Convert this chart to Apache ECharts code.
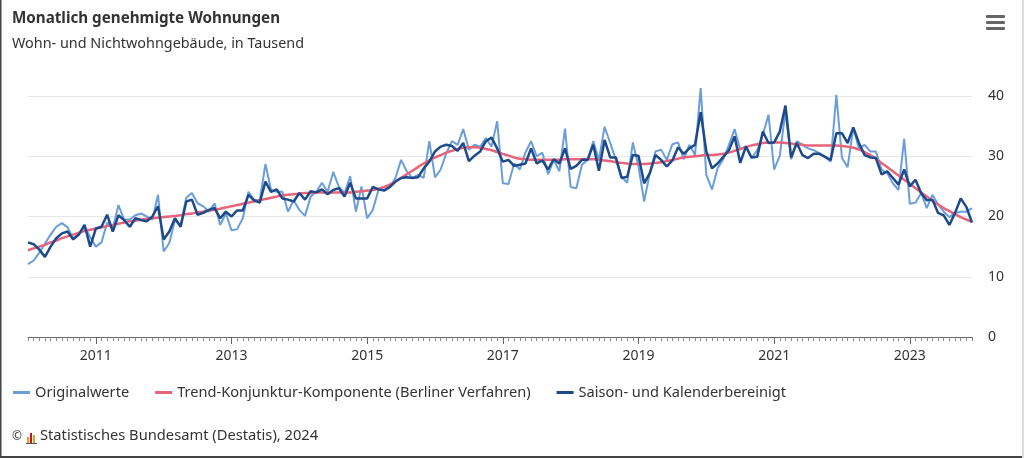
<!DOCTYPE html>
<html><head><meta charset="utf-8">
<script src="https://cdn.jsdelivr.net/npm/echarts@6/dist/echarts.min.js"></script>
<style>html,body{margin:0;padding:0;background:#fff}#c{width:1024px;height:458px}</style>
</head><body><div id="c"></div>
<script>
var years = [2010,2011,2012,2013,2014,2015,2016,2017,2018,2019,2020,2021,2022,2023];
var monthCodes = ['01','02','03','04','05','06','07','08','09','10','11','12'];
var categories = [];
years.forEach(function(y){ monthCodes.forEach(function(m){ categories.push(y + '-' + m); }); });

var yTicks = [0, 10, 20, 30, 40];

var originalwerte = [
 12.1,12.7,14.0,15.5,17.0,18.3,18.9,18.2,16.4,17.1,18.3,16.6,
 15.0,15.7,19.0,18.0,21.9,19.5,19.5,20.2,20.5,20.0,19.5,23.6,
 14.2,15.6,19.4,18.6,23.1,23.9,22.2,21.7,20.8,22.2,18.6,20.5,
 17.7,17.9,19.7,24.1,22.7,22.7,28.7,24.4,24.1,24.1,20.8,22.7,
 21.1,20.1,23.3,24.1,25.6,24.1,27.4,24.9,23.9,26.7,20.8,25.0,
 19.7,21.1,24.4,24.4,24.9,26.4,29.4,27.5,26.4,26.9,26.4,32.5,
 26.5,27.8,30.5,32.5,31.9,34.5,31.1,31.9,31.6,33.0,31.6,35.8,
 25.5,25.4,28.8,27.8,30.6,32.5,30.0,30.6,27.0,29.4,27.5,34.6,
 24.9,24.7,28.6,29.4,32.5,29.4,34.9,32.2,29.4,26.6,25.6,32.3,
 28.3,22.5,27.2,30.8,31.1,29.4,32.0,32.3,29.5,31.9,30.2,41.3,
 26.9,24.5,28.0,29.5,31.9,34.5,31.1,31.7,29.7,31.0,33.6,36.9,
 27.8,30.1,37.5,29.5,32.5,31.9,31.3,31.0,30.5,29.9,29.1,40.2,
 29.7,28.2,34.7,31.3,31.9,30.8,30.8,27.8,27.2,25.5,24.4,32.9,
 22.1,22.3,23.9,21.4,23.6,22.0,20.8,19.9,20.6,20.8,20.8,21.4
];

var trendKomponente = [
 14.4,14.7,15.0,15.3,15.7,16.0,16.4,16.7,17.0,17.3,17.6,17.8,
 18.0,18.2,18.4,18.6,18.8,19.0,19.2,19.3,19.5,19.6,19.7,19.8,
 19.9,20.0,20.1,20.2,20.4,20.5,20.7,20.8,21.0,21.1,21.3,21.5,
 21.7,21.9,22.1,22.3,22.5,22.7,22.9,23.1,23.3,23.5,23.6,23.7,
 23.8,23.9,23.9,24.0,24.0,24.0,24.0,24.0,24.0,24.0,24.1,24.2,
 24.3,24.4,24.6,24.9,25.3,25.8,26.4,27.0,27.6,28.2,28.8,29.3,
 29.8,30.2,30.6,30.9,31.2,31.4,31.5,31.5,31.4,31.2,31.0,30.7,
 30.4,30.1,29.8,29.6,29.5,29.4,29.4,29.4,29.4,29.4,29.4,29.5,
 29.5,29.5,29.5,29.5,29.5,29.4,29.3,29.2,29.0,28.9,28.8,28.7,
 28.7,28.7,28.8,28.9,29.0,29.2,29.4,29.6,29.8,29.9,30.0,30.1,
 30.2,30.2,30.3,30.4,30.6,30.9,31.2,31.5,31.8,32.0,32.2,32.3,
 32.3,32.3,32.2,32.1,32.0,31.9,31.8,31.8,31.8,31.8,31.8,31.8,
 31.7,31.6,31.4,31.1,30.7,30.2,29.6,28.9,28.2,27.5,26.8,26.1,
 25.4,24.7,24.0,23.3,22.6,22.0,21.4,20.9,20.4,19.9,19.5,19.1
];

var saisonbereinigt = [
 15.7,15.4,14.5,13.3,15.0,16.4,17.2,17.5,16.2,17.0,18.6,15.0,
 18.0,18.3,20.3,17.5,20.2,19.4,18.3,19.7,19.4,19.2,20.0,21.7,
 16.2,17.5,19.7,18.3,22.5,22.8,20.3,20.6,21.1,21.4,19.7,20.8,
 20.0,21.0,21.0,23.6,22.7,22.3,25.8,24.1,24.5,23.0,22.8,22.5,
 23.9,22.8,24.2,24.0,24.5,23.7,24.4,24.7,23.3,25.6,23.0,23.0,
 23.0,24.9,24.5,24.3,24.9,25.8,26.4,26.5,26.4,26.5,28.0,29.1,
 30.8,31.6,31.9,31.7,30.9,32.2,29.2,30.1,30.8,32.5,33.1,31.3,
 29.1,29.4,28.4,28.6,28.8,31.3,28.8,29.3,27.8,29.5,28.8,31.3,
 27.9,28.4,29.4,29.4,31.9,27.6,32.7,29.8,29.8,26.4,26.6,30.2,
 30.1,25.5,27.2,30.2,29.4,28.3,29.3,31.5,30.4,31.3,31.9,37.3,
 30.8,28.0,28.8,29.9,31.0,33.3,28.9,31.6,29.8,29.9,34.1,32.2,
 32.3,34.1,38.4,29.8,32.2,30.2,29.7,30.4,30.4,29.9,29.4,33.8,
 33.8,32.2,34.8,32.2,30.2,29.8,29.7,27.0,27.5,26.4,25.3,27.8,
 25.0,26.1,23.9,22.7,22.8,20.6,20.2,18.6,20.6,23.0,21.6,19.0
];

var seriesNames = ['Originalwerte', 'Trend-Konjunktur-Komponente (Berliner Verfahren)', 'Saison- und Kalenderbereinigt'];
var colors = ['#6a9edb', '#e8647a', '#1d4a8a'];
var FONT = '"Noto Sans", sans-serif';

function isMajor(v){ var p = v.split('-'); return p[1] === '01' && (+p[0]) % 2 === 1; }

var chart = echarts.init(document.getElementById('c'));
chart.setOption({
  animation: false,
  color: colors,
  textStyle: { fontFamily: FONT },
  title: {
    text: 'Monatlich genehmigte Wohnungen',
    subtext: 'Wohn- und Nichtwohngebäude, in Tausend',
    left: 7, top: 6, itemGap: 11,
    textStyle: { fontFamily: FONT, fontSize: 15.2, fontWeight: 'bold', color: '#333' },
    subtextStyle: { fontFamily: FONT, fontSize: 14.4, color: '#333' }
  },
  legend: {
    left: 8, top: 380, itemWidth: 17, itemHeight: 3, itemGap: 26, icon: 'rect',
    textStyle: { fontFamily: FONT, fontSize: 14.6, color: '#333' },
    data: seriesNames
  },
  grid: { left: 28, right: 52, top: 96, bottom: 121, containLabel: false },
  xAxis: [{
    type: 'category', data: categories, boundaryGap: false,
    axisLine: { lineStyle: { color: '#666', width: 1 } },
    axisTick: { show: true, interval: 0, length: 4, lineStyle: { color: '#888' } },
    axisLabel: { interval: function(i, v){ return isMajor(v); }, formatter: function(v){ return v.split('-')[0]; },
      color: '#333', fontSize: 14, margin: 12, fontFamily: FONT },
    splitLine: { show: false }
  }, {
    type: 'category', data: categories, boundaryGap: false, position: 'bottom',
    axisLine: { show: false },
    axisTick: { show: true, interval: function(i, v){ return isMajor(v); }, length: 7, lineStyle: { color: '#666' } },
    axisLabel: { show: false }, splitLine: { show: false }
  }],
  yAxis: {
    type: 'value', position: 'right', min: yTicks[0], max: yTicks[yTicks.length - 1], interval: 10,
    axisLine: { show: false }, axisTick: { show: false },
    axisLabel: { color: '#333', fontSize: 14, margin: 16, fontFamily: FONT },
    splitLine: { lineStyle: { color: '#e6e6e6' } }
  },
  series: [
    { name: seriesNames[0], type: 'line', data: originalwerte, showSymbol: false, clip: false,
      lineStyle: { width: 2, color: colors[0] }, z: 2 },
    { name: seriesNames[1], type: 'line', data: trendKomponente, showSymbol: false, clip: false, smooth: true,
      lineStyle: { width: 2.5, color: colors[1] }, z: 3 },
    { name: seriesNames[2], type: 'line', data: saisonbereinigt, showSymbol: false, clip: false,
      lineStyle: { width: 2.5, color: colors[2] }, z: 4 }
  ],
  graphic: [
    { type: 'rect', left: 0, top: 0, shape: { width: 1.5, height: 458 }, style: { fill: '#444' } },
    { type: 'rect', left: 0, top: 456, shape: { width: 1024, height: 2 }, style: { fill: '#444' } },
    { type: 'rect', left: 1022, top: 0, shape: { width: 2, height: 458 }, style: { fill: '#ddd' } },
    { type: 'rect', left: 986, top: 15, shape: { width: 19, height: 3, r: 1 }, style: { fill: '#666' } },
    { type: 'rect', left: 986, top: 21, shape: { width: 19, height: 3, r: 1 }, style: { fill: '#666' } },
    { type: 'rect', left: 986, top: 27, shape: { width: 19, height: 3, r: 1 }, style: { fill: '#666' } },
    { type: 'text', left: 12, top: 431, style: { text: '©', fontSize: 12, fill: '#333', fontFamily: FONT } },
    { type: 'rect', left: 27, top: 437, shape: { width: 2, height: 7 }, style: { fill: '#e3a21a' } },
    { type: 'rect', left: 30, top: 433, shape: { width: 2, height: 11 }, style: { fill: '#c8102e' } },
    { type: 'rect', left: 33, top: 435, shape: { width: 2, height: 9 }, style: { fill: '#e3a21a' } },
    { type: 'rect', left: 26, top: 443, shape: { width: 11, height: 1 }, style: { fill: '#555' } },
    { type: 'text', left: 40, top: 428, style: { text: 'Statistisches Bundesamt (Destatis), 2024', fontSize: 14.7, fill: '#333', fontFamily: FONT } }
  ]
});
</script></body></html>
